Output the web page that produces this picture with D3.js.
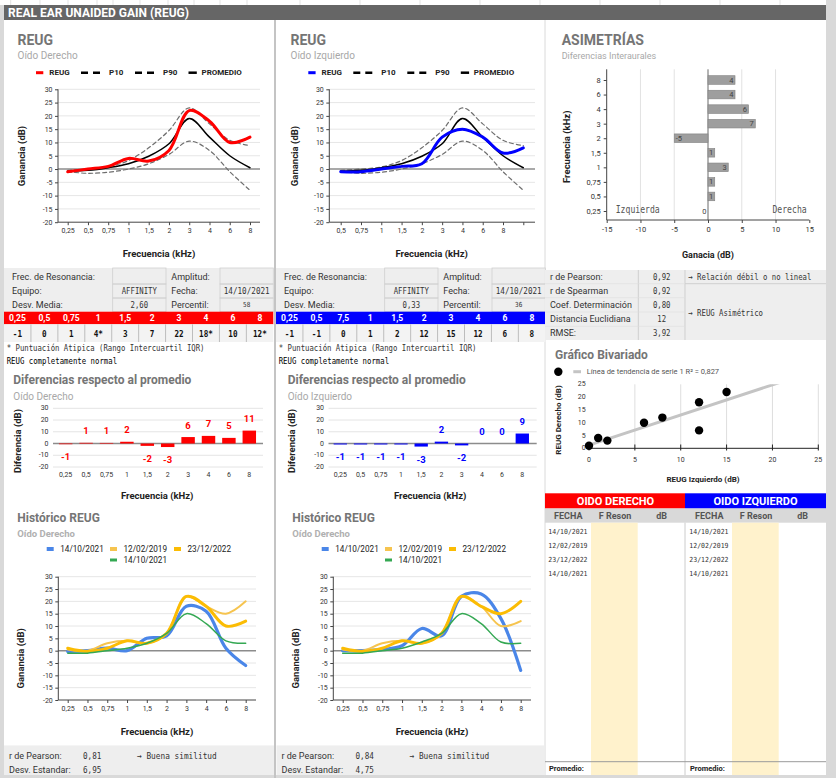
<!DOCTYPE html>
<html><head><meta charset="utf-8">
<script src="https://cdn.jsdelivr.net/npm/d3@7"></script>
<style>body{margin:0;background:#fff}svg{display:block}</style>
</head><body>
<svg id="c" width="836" height="778"></svg>
<script>
// ---------------- DATA ----------------
const freqs = ["0,25","0,5","0,75","1","1,5","2","3","4","6","8"];
const freqsLeftAxis = ["0,5","0,75","1","1,5","2","3","4","6","8",""];
const freqsLeftTable = ["0,25","0,5","7,5","1","1,5","2","3","4","6","8"];
const yTicks = [-20,-15,-10,-5,0,5,10,15,20,25,30];
const diffTicks = [-20,-10,0,10,20,30];
const reugRight = [-1,0,1,4,3,7,22,18,10,12];
const reugLeft = [-1,-1,0,1,2,12,15,12,6,8];
const outlierRight = [false,false,false,true,false,false,false,true,false,true];
const outlierLeft = [false,false,false,false,false,false,false,false,false,false];
const p10 = [-1,-1.6,-1.2,0,2,5.5,10.5,7,-1,-8];
const p90 = [-0.5,0,0.8,3.2,8,14.5,23,17,10.8,8.8];
const promedio = [-0.8,-0.5,0.5,2,4.8,9.5,19,12,5,0.5];
const diffRight = [-0.6,0.6,0.5,1.5,-2,-3,5.5,6.5,4.8,11];
const diffRightLabels = ["-1","1","1","2","-2","-3","6","7","5","11"];
const diffLeft = [-0.8,-0.8,-0.8,-0.8,-2.6,1.6,-1.6,0,0,8.5];
const diffLeftLabels = ["-1","-1","-1","-1","-3","2","-2","0","0","9"];
const asymValues = [0,1,1,3,1,-5,7,6,4,4];
const asymTicks = [-15,-10,-5,0,5,10,15];
const bivTicks = [0,5,10,15,20,25];
const histDates = ["14/10/2021","12/02/2019","23/12/2022","14/10/2021"];
const histRightBlue  = [-0.3,0,1,0,5,6,18,16,1,-6];
const histRightLight = [0.5,0,3,4,3,7,22,18,15,20];
const histRightDark  = [1,-0.3,1,4,3,7,22,18,10,12];
const histRightGreen = [-1,-1,0,1,3,7,15,11,4,3];
const histLeftBlue   = [0,0,0.5,2,9,6,22,23,13,-8];
const histLeftLight  = [0.5,0,3,4,3,7,22,18,10,12];
const histLeftDark   = [1,-0.3,1,4,3,7,22,18,15,20];
const histLeftGreen  = [-1,-1,0,1,3.5,7,15,11,3.5,3];
const infoLabelsA = ["Frec. de Resonancia:","Equipo:","Desv. Media:"];
const infoLabelsB = ["Amplitud:","Fecha:","Percentil:"];
const infoRightA = ["","AFFINITY","2,60"];
const infoRightB = ["","14/10/2021","58"];
const infoLeftA = ["","AFFINITY","0,33"];
const infoLeftB = ["","14/10/2021","36"];
const statsLabels = ["r de Pearson:","r de Spearman","Coef. Determinación","Distancia Euclidiana","RMSE:"];
const statsValues = ["0,92","0,92","0,80","12","3,92"];
const pearsonRight = "0,81", desvRight = "6,95";
const pearsonLeft = "0,84", desvLeft = "4,75";

// ---------------- HELPERS ----------------
const svg = d3.select("#c");
const SANS = "Roboto, 'Noto Sans', Arial, sans-serif";
const MONO = "'DejaVu Sans Mono', 'Liberation Mono', monospace";
function txt(g, x, y, s, o = {}) {
  const t = g.append("text").attr("x", x).attr("y", y).text(s)
    .attr("font-family", o.family || SANS).attr("font-size", o.size || 9)
    .attr("font-weight", o.weight || "normal").attr("fill", o.fill || "#222")
    .attr("text-anchor", o.anchor || "start").attr("dominant-baseline", "central");
  if (o.rot) t.attr("transform", `rotate(${o.rot},${x},${y})`);
  return t;
}
function mono(g, x, y, s, o = {}) {
  const size = o.size || 9, cw = o.cw || 4.5;
  const sx = cw / (0.602 * size);
  const gg = g.append("g").attr("transform", `translate(${x},${y}) scale(${sx},1)`);
  gg.append("text").text(s).attr("font-family", MONO).attr("font-size", size)
    .attr("font-weight", o.weight || "normal").attr("fill", o.fill || "#222")
    .attr("text-anchor", o.anchor || "start").attr("dominant-baseline", "central");
  return gg;
}
function rect(g, x, y, w, h, fill, stroke, sw) {
  return g.append("rect").attr("x", x).attr("y", y).attr("width", w).attr("height", h)
    .attr("fill", fill || "none").attr("stroke", stroke || "none").attr("stroke-width", sw || 1);
}
function ln(g, x1, y1, x2, y2, stroke, sw, dash) {
  return g.append("line").attr("x1", x1).attr("y1", y1).attr("x2", x2).attr("y2", y2)
    .attr("stroke", stroke).attr("stroke-width", sw || 1).attr("stroke-dasharray", dash || null);
}
function styleAxis(a, size) {
  a.select(".domain").remove();
  a.selectAll(".tick line").attr("stroke", "#444");
  a.selectAll(".tick text").attr("font-family", SANS).attr("font-size", size || 7).attr("fill", "#333");
}

// ---------------- FRAME ----------------
rect(svg, 0, 0, 836, 778, "#fff");
rect(svg, 0, 5, 4, 773, "#d9d9d9");
rect(svg, 826, 0, 10, 778, "#d9d9d9");
rect(svg, 0, 775, 836, 3, "#d9d9d9");
[10.7, 40, 68, 97, 113, 140, 168, 194, 220, 247, 300, 360, 420, 480, 540, 600, 660, 720, 780].forEach(v => ln(svg, v, 0, v, 5, "#e3e3e3"));
rect(svg, 4, 5, 822, 15, "#666666");
txt(svg, 8, 13, "REAL EAR UNAIDED GAIN (REUG)", {size: 12, weight: "bold", fill: "#fff"});
ln(svg, 275, 20, 275, 778, "#c4c4c4", 2);
ln(svg, 545, 20, 545, 778, "#dadada", 1);

// ---------------- LINE CHART ----------------
function lineChart(c) {
  const g = svg.append("g");
  const x = d3.scalePoint().domain(d3.range(10)).range([c.x0, c.x1]);
  const y = d3.scaleLinear().domain([-20, 30]).range([c.yb, c.yt]);
  yTicks.filter(t => t !== -20 && t !== 0).forEach(t => ln(g, c.ax, y(t), c.gr, y(t), "#e6e6e6"));
  ln(g, c.ax, y(0), c.gr, y(0), "#8c8c8c", 1.6);
  const ya = g.append("g").attr("transform", `translate(${c.ax},0)`)
    .call(d3.axisLeft(y).tickValues(yTicks).tickFormat(d => String(d)).tickSize(3).tickPadding(2.5));
  styleAxis(ya);
  const xa = g.append("g").attr("transform", `translate(0,${c.yb})`)
    .call(d3.axisBottom(x).tickFormat(i => c.labels[i]).tickSize(3).tickPadding(3));
  styleAxis(xa);
  ln(g, c.ax, c.yt, c.ax, c.yb, "#444");
  ln(g, c.ax, c.yb, c.gr, c.yb, "#444");
  const gen = d3.line().x((d, i) => x(i)).y(d => y(d)).curve(d3.curveCatmullRom.alpha(0.5));
  c.series.forEach(s => g.append("path").attr("d", gen(s.values)).attr("fill", "none")
    .attr("stroke", s.color).attr("stroke-width", s.w).attr("stroke-opacity", s.op || 1)
    .attr("stroke-dasharray", s.dash || null).attr("stroke-linecap", "round").attr("stroke-linejoin", "round"));
  txt(g, c.xtx, c.xty, "Frecuencia (kHz)", {size: 9.5, weight: "bold", anchor: "middle"});
  txt(g, c.ytx, c.yty, "Ganancia (dB)", {size: 9.5, weight: "bold", anchor: "middle", rot: -90});
  return g;
}

function reugPanel(p) {
  const g = svg.append("g");
  txt(g, p.tx, 39.5, "REUG", {size: 14, weight: "bold", fill: "#757575"});
  txt(g, p.tx, 55.5, p.sub, {size: 10, fill: "#a8a8a8"});
  const L = p.lx, ly = 72.7;
  ln(g, L, ly, L + 7.3, ly, p.color, 3);
  txt(g, L + 13.3, ly, "REUG", {size: 8, weight: "bold"});
  ln(g, L + 45, ly, L + 67.3, ly, "#000", 2.5, "7,5");
  txt(g, L + 73, ly, "P10", {size: 8, weight: "bold"});
  ln(g, L + 99, ly, L + 120.7, ly, "#000", 2.5, "7,5");
  txt(g, L + 127, ly, "P90", {size: 8, weight: "bold"});
  ln(g, L + 152.5, ly, L + 160.8, ly, "#000", 2.5);
  txt(g, L + 165.5, ly, "PROMEDIO", {size: 8, weight: "bold"});
  lineChart({
    x0: p.x0, x1: p.x1, ax: p.ax, gr: p.gr, yt: 89.3, yb: 222.2, labels: p.labels,
    xtx: p.xtx, xty: 253, ytx: p.ytx, yty: 156,
    series: [
      {values: p10, color: "#6e6e6e", w: 1.2, dash: "4,3"},
      {values: p90, color: "#6e6e6e", w: 1.2, dash: "4,3"},
      {values: promedio, color: "#000", w: 1.5},
      {values: p.values, color: p.color, w: 3}
    ]
  });
}
reugPanel({tx: 17.5, sub: "Oído Derecho", lx: 36, color: "#ff0000", values: reugRight, labels: freqs,
  x0: 67.7, x1: 250, ax: 58, gr: 260, xtx: 159, ytx: 21});
reugPanel({tx: 290.5, sub: "Oído Izquierdo", lx: 308.3, color: "#0000ff", values: reugLeft, labels: freqsLeftAxis,
  x0: 340.7, x1: 523.3, ax: 329.3, gr: 535, xtx: 431.7, ytx: 294.3});

// ---------------- ASIMETRIAS ----------------
(function () {
  const g = svg.append("g");
  txt(g, 561.7, 39.5, "ASIMETRÍAS", {size: 14, weight: "bold", fill: "#757575"});
  txt(g, 561.7, 55.5, "Diferencias Interaurales", {size: 9, fill: "#a8a8a8"});
  const x = d3.scaleLinear().domain([-15, 15]).range([606.7, 809.3]);
  const y = d3.scalePoint().domain(freqs).range([211, 80]);
  asymTicks.filter(t => t !== -15 && t !== 15 && t !== 0).forEach(t => ln(g, x(t), 69.3, x(t), 220, "#e2e2e2"));
  ln(g, x(0), 69.3, x(0), 220, "#6a6a6a");
  const xa = g.append("g").attr("transform", "translate(0,220)")
    .call(d3.axisBottom(x).tickValues(asymTicks).tickFormat(d => String(d)).tickSize(3).tickPadding(4));
  styleAxis(xa, 7.5);
  const ya = g.append("g").attr("transform", "translate(606.7,0)")
    .call(d3.axisLeft(y).tickSize(3).tickPadding(3));
  styleAxis(ya, 7.5);
  ln(g, 606.7, 69.3, 606.7, 220, "#444");
  ln(g, 606.7, 220, 809.3, 220, "#444");
  freqs.forEach((f, i) => {
    const v = asymValues[i];
    rect(g, x(Math.min(0, v)), y(f) - 4.3, Math.abs(x(v) - x(0)), 8.6, "#9e9e9e", "#808080", 0.6);
    if (v >= 0) txt(g, x(v) - 1.5, y(f), String(v), {size: 7.5, fill: "#444", anchor: "end"});
    else txt(g, x(v) + 1.5, y(f), String(v), {size: 7.5, fill: "#444"});
  });
  mono(g, 615.7, 210, "Izquierda", {size: 10, cw: 4.9, fill: "#555"});
  mono(g, 806.7, 210, "Derecha", {size: 10, cw: 4.9, fill: "#555", anchor: "end"});
  txt(g, 566.7, 146.7, "Frecuencia (kHz)", {size: 9.5, weight: "bold", anchor: "middle", rot: -90});
  txt(g, 708, 255, "Ganacia (dB)", {size: 9, weight: "bold", anchor: "middle"});
})();

// ---------------- INFO TABLES ----------------
function infoTable(x0, color, heads, vals, flags, A, B) {
  const g = svg.append("g");
  const W = 269.3;
  rect(g, x0, 268, W, 43.7, "#eeeeee");
  const rowsY = [268, 284, 298, 311.7];
  for (let r = 0; r < 3; r++) {
    rect(g, x0 + 108.7, rowsY[r], 53.3, rowsY[r + 1] - rowsY[r], "none", "#cfcfcf", 0.8);
    rect(g, x0 + 216, rowsY[r], W - 216, rowsY[r + 1] - rowsY[r], "none", "#cfcfcf", 0.8);
  }
  const cy = [277, 291, 305];
  infoLabelsA.forEach((s, r) => txt(g, x0 + 8, cy[r], s, {size: 9, fill: "#333"}));
  infoLabelsB.forEach((s, r) => txt(g, x0 + 167.3, cy[r], s, {size: 9, fill: "#333"}));
  A.forEach((s, r) => { if (s) mono(g, x0 + 135.3, cy[r], s, {size: 9, cw: 4.4, anchor: "middle", fill: "#333"}); });
  B.forEach((s, r) => { if (s) mono(g, x0 + 242.7, cy[r], s, r === 2 ? {size: 7, cw: 3.6, anchor: "middle", fill: "#333"} : {size: 9, cw: 4.6, anchor: "middle", fill: "#333"}); });
  const cw = W / 10;
  rect(g, x0, 311.7, W, 12.6, color);
  heads.forEach((h, i) => txt(g, x0 + (i + 0.5) * cw, 318, h, {size: 8.5, weight: "bold", fill: "#fff", anchor: "middle"}));
  rect(g, x0, 324.3, W, 17.7, "#f3f3f3");
  for (let i = 1; i < 10; i++) ln(g, x0 + i * cw, 324.3, x0 + i * cw, 342, "#bdbdbd");
  vals.forEach((v, i) => mono(g, x0 + (i + 0.5) * cw, 334, String(v) + (flags[i] ? "*" : ""), {size: 9.5, cw: 4.6, anchor: "middle", weight: "bold", fill: "#111"}));
  mono(g, x0 + 2.7, 347.3, "* Puntuación Atipica (Rango Intercuartil IQR)", {size: 9, cw: 4.4, fill: "#333"});
  mono(g, x0 + 2.7, 361, "REUG completamente normal", {size: 9, cw: 4.42, fill: "#000"});
}
infoTable(4, "#ff0000", freqs, reugRight, outlierRight, infoRightA, infoRightB);
infoTable(276, "#0000ff", freqsLeftTable, reugLeft, outlierLeft, infoLeftA, infoLeftB);

// ---------------- STATS TABLE ----------------
(function () {
  const g = svg.append("g");
  rect(g, 545, 270, 281, 70, "#eeeeee");
  const rows = [270, 283.7, 297.7, 312, 326.3, 340];
  ln(g, 638.3, 270, 638.3, 340, "#cfcfcf");
  ln(g, 685, 270, 685, 340, "#cfcfcf");
  for (let r = 1; r < 5; r++) ln(g, 545, rows[r], 685, rows[r], "#dedede", 0.6);
  ln(g, 685, rows[1], 826, rows[1], "#cfcfcf");
  statsLabels.forEach((s, r) => {
    const cy = (rows[r] + rows[r + 1]) / 2;
    txt(g, 550, cy, s, {size: 9, fill: "#333"});
    mono(g, 661.7, cy, statsValues[r], {size: 9, cw: 4.4, anchor: "middle", fill: "#333"});
  });
  mono(g, 688.3, 276.8, "→ Relación débil o no lineal", {size: 9, cw: 4.4, fill: "#333"});
  mono(g, 688.3, 312.3, "→ REUG Asimétrico", {size: 9, cw: 4.4, fill: "#333"});
})();

// ---------------- DIFF CHARTS ----------------
function diffChart(d) {
  const g = svg.append("g");
  txt(g, d.tx, 380.3, "Diferencias respecto al promedio", {size: 12, weight: "bold", fill: "#757575"});
  txt(g, d.tx, 396, d.sub, {size: 10, fill: "#a8a8a8"});
  const x = d3.scalePoint().domain(d3.range(10)).range([d.x0, d.x1]);
  const y = d3.scaleLinear().domain([-20, 30]).range([467, 408.3]);
  diffTicks.forEach(t => ln(g, d.g0, y(t), d.g1, y(t), t === 0 ? "#8c8c8c" : "#e4e4e4", t === 0 ? 1.4 : 1));
  diffTicks.forEach(t => txt(g, d.g0 - 4.5, y(t), String(t), {size: 7, fill: "#333", anchor: "end"}));
  freqs.forEach((f, i) => txt(g, x(i), 474.5, f, {size: 7, fill: "#333", anchor: "middle"}));
  const bw = x.step() * 0.66;
  d.values.forEach((v, i) => {
    if (v !== 0) rect(g, x(i) - bw / 2, y(Math.max(0, v)), bw, Math.abs(y(v) - y(0)), d.color);
    const ly = v > 0 ? y(v) - 12 : v < 0 ? y(v) + 12.5 : y(0) - 12.5;
    txt(g, x(i), ly, d.labels[i], {size: 9.5, weight: "bold", fill: d.color, anchor: "middle"});
  });
  txt(g, d.xtx, 495, "Frecuencia (kHz)", {size: 9.5, weight: "bold", anchor: "middle"});
  txt(g, d.ytx, 441, "Diferencia (dB)", {size: 9.5, weight: "bold", anchor: "middle", rot: -90});
}
diffChart({tx: 13.3, sub: "Oído Derecho", x0: 65.7, x1: 249.3, g0: 53, g1: 263, values: diffRight, labels: diffRightLabels, color: "#ff0000", xtx: 157.2, ytx: 17.3});
diffChart({tx: 287.7, sub: "Oído Izquierdo", x0: 340.3, x1: 522.3, g0: 328.5, g1: 536.7, values: diffLeft, labels: diffLeftLabels, color: "#0000ff", xtx: 430.2, ytx: 291});

// ---------------- BIVARIADO ----------------
(function () {
  const g = svg.append("g");
  txt(g, 555, 354.5, "Gráfico Bivariado", {size: 12, weight: "bold", fill: "#757575"});
  g.append("circle").attr("cx", 558.3).attr("cy", 371.7).attr("r", 4.2).attr("fill", "#000");
  ln(g, 573.3, 371.7, 581, 371.7, "#c4c4c4", 3);
  txt(g, 586.7, 371.7, "Línea de tendencia de serie 1 R² = 0,827", {size: 7.5, fill: "#555"});
  const x = d3.scaleLinear().domain([0, 25]).range([589, 818.3]);
  const y = d3.scaleLinear().domain([0, 25]).range([448.3, 384.3]);
  bivTicks.filter(t => t > 0).forEach(t => ln(g, x(t), 384.3, x(t), 448.3, "#dedede"));
  bivTicks.forEach(t => txt(g, 585.7, y(t), String(t), {size: 7, fill: "#333", anchor: "end"}));
  bivTicks.forEach(t => txt(g, x(t), 460, String(t), {size: 7, fill: "#333", anchor: "middle"}));
  ln(g, 589, 448.3, 818.3, 448.3, "#222", 1);
  bivTicks.forEach(t => ln(g, x(t), 444.5, x(t), 450.5, "#222", 1));
  svg.append("clipPath").attr("id", "bclip").append("rect").attr("x", 584.5).attr("y", 384.3).attr("width", 240).attr("height", 70);
  const cg = g.append("g").attr("clip-path", "url(#bclip)");
  const mx = d3.mean(reugLeft), my = d3.mean(reugRight);
  const sxy = d3.sum(reugLeft, (v, i) => (v - mx) * (reugRight[i] - my));
  const sxx = d3.sum(reugLeft, v => (v - mx) * (v - mx));
  const slope = sxy / sxx, icpt = my - slope * mx;
  ln(cg, x(0), y(icpt), x(25), y(icpt + slope * 25), "#c4c4c4", 3);
  reugLeft.forEach((v, i) => cg.append("circle").attr("cx", x(v)).attr("cy", y(reugRight[i])).attr("r", 4.2).attr("fill", "#000"));
  txt(g, 703, 479.3, "REUG Izquierdo (dB)", {size: 8, weight: "bold", anchor: "middle"});
  txt(g, 558, 420, "REUG Derecho (dB)", {size: 8, weight: "bold", anchor: "middle", rot: -90});
})();

// ---------------- HISTORICO ----------------
function histPanel(h) {
  const g = svg.append("g");
  txt(g, h.tx, 517.8, "Histórico REUG", {size: 12, weight: "bold", fill: "#757575"});
  txt(g, h.tx, 533, "Oído Derecho", {size: 9.5, weight: "bold", fill: "#b0b0b0"});
  const s = h.shift;
  const items = [
    {x: 46.7, y: 549, c: "#4a86e8", w: 4, t: histDates[0]},
    {x: 110, y: 549, c: "#f6c44f", w: 4, t: histDates[1]},
    {x: 174, y: 549, c: "#fbbc04", w: 4, t: histDates[2]},
    {x: 110, y: 560, c: "#34a853", w: 3, t: histDates[3]}
  ];
  items.forEach(it => {
    ln(g, s + it.x, it.y, s + it.x + 7, it.y, it.c, it.w);
    txt(g, s + it.x + 13.5, it.y, it.t, {size: 8.2, fill: "#222"});
  });
  lineChart({
    x0: s + 67.7, x1: s + 245.7, ax: s + 58.3, gr: s + 256, yt: 576.7, yb: 700, labels: freqs,
    xtx: s + 157, xty: 731, ytx: s + 20.7, yty: 658.3,
    series: [
      {values: h.blue, color: "#4a86e8", w: 3.2},
      {values: h.light, color: "#f6c44f", w: 2},
      {values: h.dark, color: "#fbbc04", w: 3},
      {values: h.green, color: "#34a853", w: 1.5}
    ]
  });
}
histPanel({tx: 17.3, shift: 0, blue: histRightBlue, light: histRightLight, dark: histRightDark, green: histRightGreen});
histPanel({tx: 292.3, shift: 275, blue: histLeftBlue, light: histLeftLight, dark: histLeftDark, green: histLeftGreen});

// ---------------- BOTTOM STATS ----------------
function bottomStats(x0, w, pear, desv) {
  const g = svg.append("g");
  rect(g, x0, 745.4, w, 29.6, "#eeeeee");
  txt(g, x0 + 5, 756, "r de Pearson:", {size: 9, fill: "#333"});
  txt(g, x0 + 5, 769.8, "Desv. Estandar:", {size: 9, fill: "#333"});
  mono(g, x0 + 79, 756, pear, {size: 9, cw: 4.6, fill: "#333"});
  mono(g, x0 + 79, 769.8, desv, {size: 9, cw: 4.6, fill: "#333"});
  mono(g, x0 + 133, 756, "→ Buena similitud", {size: 9, cw: 4.7, fill: "#333"});
}
bottomStats(4, 270, pearsonRight, desvRight);
bottomStats(276.5, 268, pearsonLeft, desvLeft);

// ---------------- HISTORY TABLE ----------------
(function () {
  const g = svg.append("g");
  rect(g, 545, 493.3, 140, 15.2, "#ff0000");
  rect(g, 685, 493.3, 141, 15.2, "#0000ff");
  txt(g, 615.5, 501, "OIDO DERECHO", {size: 11, weight: "bold", fill: "#fff", anchor: "middle"});
  txt(g, 755.5, 501, "OIDO IZQUIERDO", {size: 11, weight: "bold", fill: "#fff", anchor: "middle"});
  rect(g, 545, 508.5, 281, 14.2, "#d9d9d9");
  const heads = ["FECHA", "F Reson", "dB"];
  [0, 141].forEach(off => {
    [568.3, 615, 661.7].forEach((cx, i) => txt(g, cx + off, 515.6, heads[i], {size: 9, weight: "bold", fill: "#555", anchor: "middle"}));
    rect(g, 591 + off, 522.7, 46.7, 252.3, "#fff2cc");
    histDates.forEach((d, i) => mono(g, 548.3 + off, 531.7 + i * 14, d, {size: 7, cw: 3.93, fill: "#333"}));
    txt(g, 549 + off, 768.3, "Promedio:", {size: 7.5, weight: "bold", fill: "#222"});
  });
  ln(g, 685, 522.7, 685, 775, "#cccccc");
  ln(g, 545, 761.7, 826, 761.7, "#9a9a9a");
})();
</script>
</body></html>
